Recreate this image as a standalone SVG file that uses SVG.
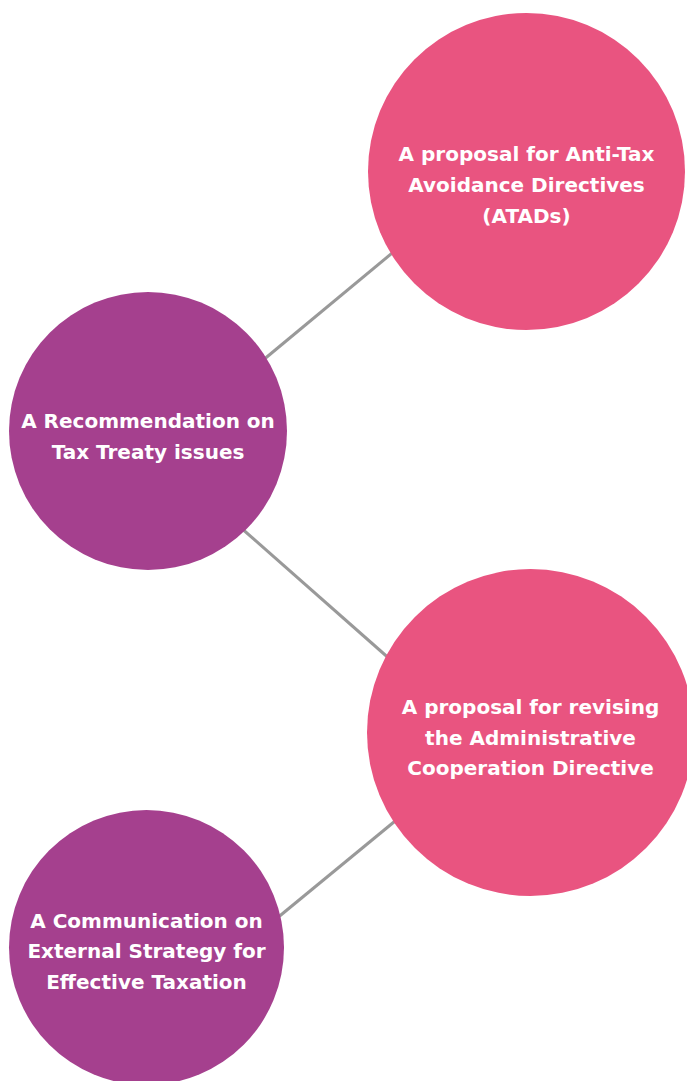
<svg xmlns="http://www.w3.org/2000/svg" width="687" height="1081" viewBox="0 0 687 1081">
<style>
.pink{fill:#E95480}
.purple{fill:#A5408E}
.lbl{font-family:"DejaVu Sans",sans-serif;font-weight:bold;font-size:20px;fill:#FFFFFF;text-anchor:middle}
.conn{stroke:#999999;stroke-width:3;fill:none}
</style>
<rect width="687" height="1081" fill="#FFFFFF"/>
<g id="connectors">
<line class="conn" x1="262" y1="361" x2="397" y2="249"/>
<line class="conn" x1="240" y1="527" x2="392" y2="661"/>
<line class="conn" x1="276" y1="919" x2="400" y2="817"/>
</g>
<g id="node-atad">
<circle class="pink" cx="526.5" cy="171.5" r="158.5"/>
<text class="lbl" x="526.5" y="161">A proposal for Anti-Tax</text>
<text class="lbl" x="526.5" y="192">Avoidance Directives</text>
<text class="lbl" x="526.5" y="223">(ATADs)</text>
</g>
<g id="node-treaty">
<circle class="purple" cx="148" cy="431" r="139"/>
<text class="lbl" x="148" y="428">A Recommendation on</text>
<text class="lbl" x="148" y="459">Tax Treaty issues</text>
</g>
<g id="node-dac">
<circle class="pink" cx="530.5" cy="732.5" r="163.5"/>
<text class="lbl" x="530.5" y="714">A proposal for revising</text>
<text class="lbl" x="530.5" y="745">the Administrative</text>
<text class="lbl" x="530.5" y="775">Cooperation Directive</text>
</g>
<g id="node-comm">
<circle class="purple" cx="146.5" cy="947.5" r="137.5"/>
<text class="lbl" x="146.5" y="928">A Communication on</text>
<text class="lbl" x="146.5" y="958">External Strategy for</text>
<text class="lbl" x="146.5" y="989">Effective Taxation</text>
</g>
</svg>
